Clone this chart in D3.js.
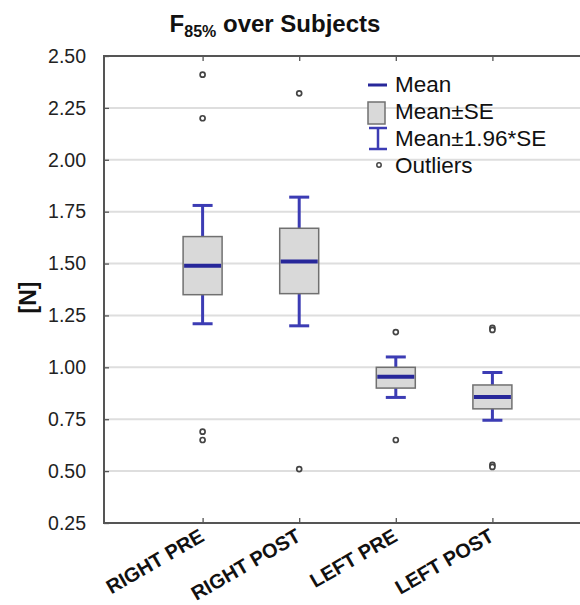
<!DOCTYPE html>
<html>
<head>
<meta charset="utf-8">
<script src="https://cdn.jsdelivr.net/npm/d3@7"></script>
<style>
  body { margin: 0; background: #fff; }
  svg { display: block; font-family: "Liberation Sans", Arial, sans-serif; }
</style>
</head>
<body>
<div id="chart"></div>
<script>

// values
var categories = [ 'RIGHT PRE', 'RIGHT POST', 'LEFT PRE', 'LEFT POST' ];
var means  = [ 1.49, 1.51, 0.955, 0.857 ];
var seLow  = [ 1.35, 1.355, 0.90, 0.80 ];
var seHigh = [ 1.63, 1.67, 1.00, 0.915 ];
var ciLow  = [ 1.21, 1.20, 0.855, 0.745 ];
var ciHigh = [ 1.78, 1.82, 1.05, 0.975 ];
var outliers = [
    [ 2.41, 2.20, 0.69, 0.65 ],
    [ 2.32, 0.51 ],
    [ 1.17, 0.65 ],
    [ 1.19, 1.18, 0.53, 0.52 ]
];
var yTicks = [ 0.25, 0.50, 0.75, 1.00, 1.25, 1.50, 1.75, 2.00, 2.25, 2.50 ];
var legendItems = [ 'Mean', 'Mean\u00b1SE', 'Mean\u00b11.96*SE', 'Outliers' ];

var width = 580,
    height = 605;

// plot frame (note: "top" is taken by window.top)
var plotLeft = 104,
    plotTop = 56,
    plotBottom = 523,
    plotRight = 580;

var meanColor = '#27279a',
    whiskColor = '#3c3cb4';

var svg = d3.select('#chart').append('svg')
    .attr('width', width)
    .attr('height', height);

var y = d3.scaleLinear()
    .domain([ 0.25, 2.5 ])
    .range([ plotBottom, plotTop ]);

var x = d3.scalePoint()
    .domain( categories )
    .range([ 106, 589 ])
    .padding( 1 );

// grid lines
svg.append('g')
    .selectAll('line')
    .data( yTicks.slice( 1, -1 ) )
    .enter().append('line')
    .attr('x1', plotLeft)
    .attr('x2', plotRight)
    .attr('y1', function ( d ) { return y( d ) })
    .attr('y2', function ( d ) { return y( d ) })
    .attr('stroke', '#dedede')
    .attr('stroke-width', 2);

// left axis, ticks point inward
var yAxis = svg.append('g')
    .attr('transform', 'translate(' + plotLeft + ',0)')
    .call( d3.axisLeft( y ).tickValues( yTicks ).tickSize( -5 ).tickPadding( 18 )
        .tickFormat( d3.format('.2f') ) );

yAxis.select('.domain').remove();
yAxis.selectAll('line').attr('stroke', '#555').attr('stroke-width', 1.3);
yAxis.selectAll('text')
    .attr('font-size', 19.5)
    .attr('font-family', '"Liberation Sans", Arial, sans-serif')
    .attr('fill', '#222');

// bottom and top axis
var xAxis = svg.append('g')
    .attr('transform', 'translate(0,' + plotBottom + ')')
    .call( d3.axisBottom( x ).tickSize( -5 ).tickFormat('') );

xAxis.select('.domain').remove();
xAxis.selectAll('line').attr('stroke', '#555').attr('stroke-width', 1.3);

var xTop = svg.append('g')
    .attr('transform', 'translate(0,' + plotTop + ')')
    .call( d3.axisTop( x ).tickSize( -5 ).tickFormat('') );

xTop.select('.domain').remove();
xTop.selectAll('line').attr('stroke', '#555').attr('stroke-width', 1.3);

// frame
svg.append('path')
    .attr('d', 'M' + plotRight + ',' + plotTop + 'H' + plotLeft + 'V' + plotBottom + 'H' + plotRight)
    .attr('fill', 'none')
    .attr('stroke', '#555')
    .attr('stroke-width', 2);

// rotated category labels
svg.append('g')
    .selectAll('text')
    .data( categories )
    .enter().append('text')
    .attr('transform', function ( d ) {
        return 'translate(' + ( x( d ) + 3 ) + ',' + ( plotBottom + 17 ) + ') rotate(-30)';
    })
    .attr('text-anchor', 'end')
    .attr('font-size', 20)
    .attr('font-weight', 'bold')
    .attr('fill', '#111')
    .text( function ( d ) { return d });

// boxes
var boxW = 39,
    capW = 20;

var groups = svg.append('g')
    .selectAll('g')
    .data( categories )
    .enter().append('g');

groups.append('line')
    .attr('x1', function ( d ) { return x( d ) })
    .attr('x2', function ( d ) { return x( d ) })
    .attr('y1', function ( d, i ) { return y( ciLow[ i ] ) })
    .attr('y2', function ( d, i ) { return y( ciHigh[ i ] ) })
    .attr('stroke', whiskColor)
    .attr('stroke-width', 3);

[ ciLow, ciHigh ].forEach( function ( arr ) {

    groups.append('line')
        .attr('x1', function ( d ) { return x( d ) - capW / 2 })
        .attr('x2', function ( d ) { return x( d ) + capW / 2 })
        .attr('y1', function ( d, i ) { return y( arr[ i ] ) })
        .attr('y2', function ( d, i ) { return y( arr[ i ] ) })
        .attr('stroke', whiskColor)
        .attr('stroke-width', 3);

});

groups.append('rect')
    .attr('x', function ( d ) { return x( d ) - boxW / 2 })
    .attr('y', function ( d, i ) { return y( seHigh[ i ] ) })
    .attr('width', boxW)
    .attr('height', function ( d, i ) { return y( seLow[ i ] ) - y( seHigh[ i ] ) })
    .attr('fill', '#d9d9d9')
    .attr('stroke', '#707070')
    .attr('stroke-width', 1.5);

groups.append('line')
    .attr('x1', function ( d ) { return x( d ) - boxW / 2 + 1 })
    .attr('x2', function ( d ) { return x( d ) + boxW / 2 - 1 })
    .attr('y1', function ( d, i ) { return y( means[ i ] ) })
    .attr('y2', function ( d, i ) { return y( means[ i ] ) })
    .attr('stroke', meanColor)
    .attr('stroke-width', 4);

// outliers
groups.each( function ( d, i ) {

    d3.select( this ).selectAll('circle')
        .data( outliers[ i ] )
        .enter().append('circle')
        .attr('cx', x( d ))
        .attr('cy', function ( v ) { return y( v ) })
        .attr('r', 2.5)
        .attr('fill', '#fff')
        .attr('stroke', '#444')
        .attr('stroke-width', 1.7);

});

// legend
var legend = svg.append('g')
    .attr('transform', 'translate(368,85)');

var rowH = 27;

legend.append('line')
    .attr('x1', 0).attr('x2', 19)
    .attr('y1', 0).attr('y2', 0)
    .attr('stroke', meanColor)
    .attr('stroke-width', 3);

legend.append('rect')
    .attr('x', 0).attr('y', rowH - 10)
    .attr('width', 17).attr('height', 22)
    .attr('fill', '#d9d9d9')
    .attr('stroke', '#707070')
    .attr('stroke-width', 1.5);

legend.append('path')
    .attr('d', 'M1,' + ( 2 * rowH - 11 ) + 'H19M10,' + ( 2 * rowH - 11 ) + 'V' + ( 2 * rowH + 10 ) + 'M1,' + ( 2 * rowH + 10 ) + 'H19')
    .attr('fill', 'none')
    .attr('stroke', whiskColor)
    .attr('stroke-width', 2.5);

legend.append('circle')
    .attr('cx', 11).attr('cy', 3 * rowH - 1)
    .attr('r', 2.2)
    .attr('fill', '#fff')
    .attr('stroke', '#444')
    .attr('stroke-width', 1.5);

legend.selectAll('text')
    .data( legendItems )
    .enter().append('text')
    .attr('x', 27)
    .attr('y', function ( d, i ) { return i * rowH + 7 })
    .attr('font-size', 22.5)
    .attr('fill', '#111')
    .text( function ( d ) { return d });

// titles
var title = svg.append('text')
    .attr('x', 275)
    .attr('y', 32)
    .attr('text-anchor', 'middle')
    .attr('font-size', 24)
    .attr('font-weight', 'bold')
    .attr('fill', '#111');

title.append('tspan').text('F');
title.append('tspan').attr('font-size', 16).attr('dy', 5).text('85%');
title.append('tspan').attr('dy', -5).text(' over Subjects');

svg.append('text')
    .attr('transform', 'translate(36,' + ( ( plotTop + plotBottom ) / 2 + 8 ) + ') rotate(-90)')
    .attr('text-anchor', 'middle')
    .attr('font-size', 23)
    .attr('font-weight', 'bold')
    .attr('fill', '#111')
    .text('[N]');

</script>
</body>
</html>
